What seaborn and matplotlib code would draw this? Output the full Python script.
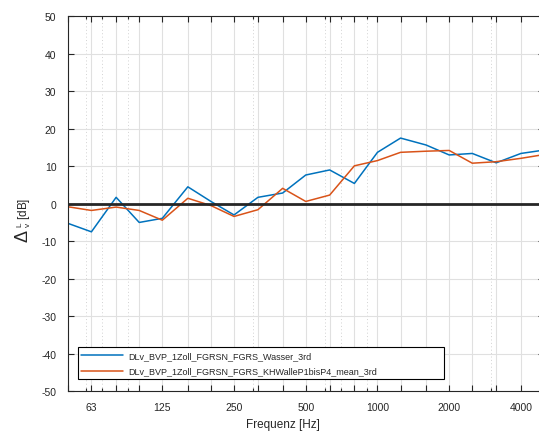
import numpy as np
import pandas as pd
import seaborn as sns
import matplotlib.pyplot as plt
from matplotlib.ticker import FixedLocator, NullFormatter

# third-octave band centres [Hz]
bands = [50, 63, 80, 100, 125, 160, 200, 250, 315, 400, 500, 630, 800,
         1000, 1250, 1600, 2000, 2500, 3150, 4000, 5000]
wasser = [-5.2, -7.5, 1.7, -5.0, -3.9, 4.5, 0.6, -3.0, 1.7, 2.85, 7.65, 9.0,
          5.4, 13.7, 17.5, 15.65, 13.0, 13.4, 10.9, 13.4, 14.3]
khwalle = [-0.8, -1.8, -0.9, -1.8, -4.4, 1.45, -0.5, -3.4, -1.6, 4.1, 0.6, 2.3,
           10.1, 11.5, 13.7, 14.0, 14.2, 10.8, 11.2, 12.1, 13.1]
names = ['DLv_BVP_1Zoll_FGRSN_FGRS_Wasser_3rd',
         'DLv_BVP_1Zoll_FGRSN_FGRS_KHWalleP1bisP4_mean_3rd']
tick_labels = {63: '63', 125: '125', 250: '250', 500: '500',
               1000: '1000', 2000: '2000', 4000: '4000'}
minor_freqs = [60, 70, 90, 300, 600, 700, 900, 3000]
y_ticks = list(range(-50, 51, 10))
zero_level = 0

df = pd.DataFrame({
    'Frequenz': bands * 2,
    'dL': wasser + khwalle,
    'Messung': [names[0]] * len(bands) + [names[1]] * len(bands),
})

sns.set_style('ticks')
plt.rcParams['font.family'] = ['Liberation Sans', 'DejaVu Sans']
plt.rcParams['axes.unicode_minus'] = False
plt.rcParams['mathtext.fontset'] = 'custom'
plt.rcParams['mathtext.rm'] = 'Liberation Sans'

dark = '#262626'
fig = plt.figure(figsize=(5.39, 4.35), dpi=100)
ax = fig.add_axes([67.5 / 539, 1 - 392.2 / 435, 476.5 / 539, 375 / 435])

sns.lineplot(data=df, x='Frequenz', y='dL', hue='Messung',
             palette={names[0]: '#0072BD', names[1]: '#D95319'},
             linewidth=1.1, ax=ax)
ax.axhline(zero_level, color=dark, lw=2)

ax.set_xscale('log')
ax.set_xlim(50, 5000)
ax.set_ylim(-50, 50)
ax.xaxis.set_major_locator(FixedLocator(bands))
ax.set_xticklabels([tick_labels.get(f, '') for f in bands])
ax.xaxis.set_minor_locator(FixedLocator(minor_freqs))
ax.xaxis.set_minor_formatter(NullFormatter())
ax.set_yticks(y_ticks)
ax.set_yticklabels([str(v) for v in y_ticks])

ax.grid(which='major', color='#e0e0e0', lw=0.8)
ax.grid(which='minor', axis='x', color='#d2d2d2', lw=0.7,
        linestyle=(0, (1, 2.5)))
ax.set_axisbelow(True)

ax.tick_params(which='both', direction='in', top=True, right=True,
               color=dark, labelcolor=dark, labelsize=7.5, width=0.8)
ax.tick_params(which='major', length=4, pad=8)
ax.tick_params(which='minor', length=2.5)
for s in ax.spines.values():
    s.set_color(dark)
    s.set_linewidth(0.8)

ax.set_xlabel('Frequenz [Hz]', fontsize=8.5, color=dark)
ax.xaxis.set_label_coords(0.452, -0.072)
ax.set_ylabel('')

fig.text(22.5 / 539, 1 - 236 / 435, '\u0394', rotation=90, fontsize=13,
         ha='center', va='center', color=dark)
fig.text(24 / 539, 1 - 212.5 / 435, r'$^{\mathrm{L}}_{\mathrm{v}}$ [dB]',
         rotation=90, fontsize=8.5, ha='center', va='center', color=dark)

handles, labels = ax.get_legend_handles_labels()
leg = ax.legend(handles, labels, loc='lower left',
                bbox_to_anchor=(0.0214, 0.0317, 0.769, 0.09), mode='expand',
                borderaxespad=0, fancybox=False, framealpha=1,
                edgecolor='black', fontsize=6.5, handlelength=4.6,
                labelspacing=0.75, handletextpad=0.6)
leg.get_frame().set_linewidth(0.8)

fig.savefig('out.png', dpi=100)
